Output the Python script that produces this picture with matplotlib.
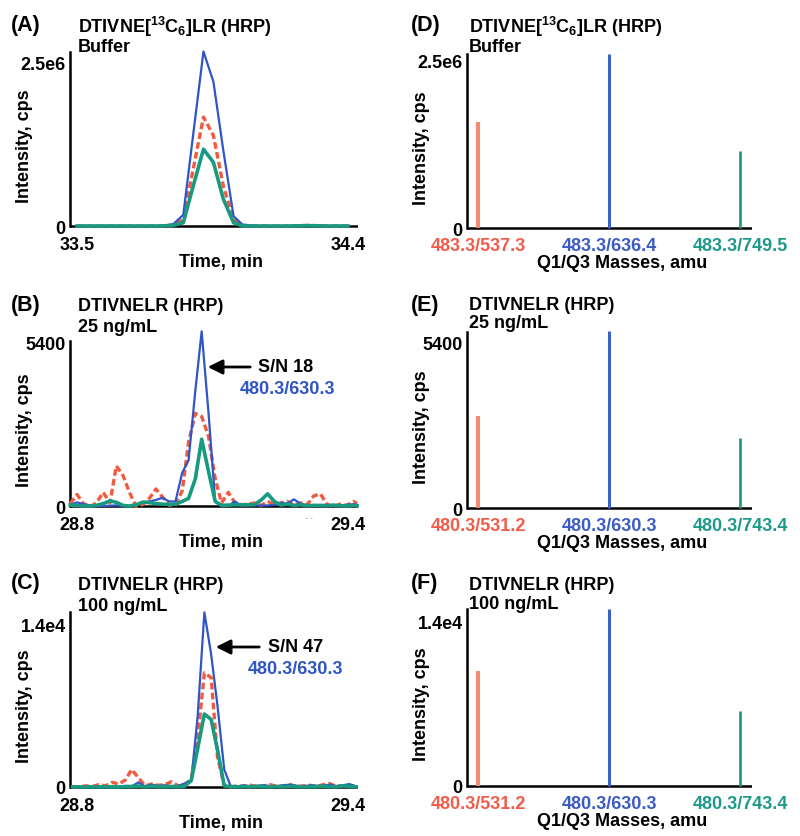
import matplotlib
matplotlib.use('Agg')
import matplotlib.pyplot as plt

plt.rcParams['font.family'] = ['Liberation Sans', 'DejaVu Sans']
plt.rcParams['font.weight'] = 'bold'
plt.rcParams['mathtext.fontset'] = 'custom'
plt.rcParams['mathtext.rm'] = 'Liberation Sans:bold'
plt.rcParams['mathtext.bf'] = 'Liberation Sans:bold'
plt.rcParams['mathtext.it'] = 'Liberation Sans:bold'

# ---------------- data ----------------
# Panel A (buffer, labeled peptide)
time_a = [33.50, 33.60, 33.70, 33.78, 33.82, 33.853, 33.886, 33.92, 33.953, 33.986,
          34.02, 34.05, 34.10, 34.20, 34.27, 34.33, 34.40]
blue_a = [0, 0, 0, 0, 0.03e6, 0.17e6, 1.40e6, 2.66e6, 2.20e6, 1.15e6,
          0.15e6, 0.02e6, 0, 0, 0.01e6, 0, 0]
red_a = [0, 0, 0, 0, 0.01e6, 0.10e6, 0.87e6, 1.66e6, 1.38e6, 0.61e6,
         0.10e6, 0.01e6, 0, 0, 0.01e6, 0, 0]
green_a = [0, 0, 0, 0, 0.01e6, 0.05e6, 0.61e6, 1.17e6, 0.97e6, 0.41e6,
           0.05e6, 0, 0, 0, 0.005e6, 0, 0]

# Panel B (25 ng/mL)
time_b = [28.785, 28.800, 28.814, 28.829, 28.843, 28.858, 28.873, 28.887, 28.902, 28.916,
          28.931, 28.946, 28.960, 28.975, 28.989, 29.004, 29.018, 29.033, 29.047, 29.062,
          29.076, 29.091, 29.106, 29.120, 29.135, 29.149, 29.164, 29.178, 29.193, 29.208,
          29.222, 29.237, 29.251, 29.266, 29.280, 29.295, 29.310, 29.324, 29.339, 29.353,
          29.368, 29.382, 29.397, 29.412, 29.420]
red_b = [80, 380, 80, -20, 100, 450, 100, 1320, 1000, 450,
         -20, 50, 250, 560, 300, 30, 40, 500, 2100, 3050,
         2950, 2300, 900, 100, 450, 120, 40, 60, 100, 20,
         150, 60, 100, 150, 30, 100, 50, 330, 400, 60,
         -20, 60, 20, 150, 80]
blue_b = [40, 120, 60, 20, 0, 0, 10, 20, 0, 0,
          30, 120, 150, 200, 270, 150, 150, 1100, 1500, 3800,
          5750, 3100, 150, 30, 0, 150, 20, 20, 30, 10,
          20, 40, 100, 80, 220, 80, 20, 30, 10, 30,
          0, 20, 40, 60, 30]
green_b = [30, 20, 0, 0, 20, 80, 170, 120, 20, 0,
           40, 130, 110, 80, 60, 50, 60, 150, 250, 900,
           2200, 1150, 150, 20, 30, 40, 40, 40, 40, 200,
           400, 150, 30, 60, 20, 40, 10, 20, 20, 10,
           30, 10, 0, 20, 10]

# Panel C (100 ng/mL)
time_c = [28.790, 28.805, 28.819, 28.834, 28.848, 28.863, 28.878, 28.892, 28.907, 28.921,
          28.936, 28.951, 28.965, 28.980, 28.994, 29.009, 29.024, 29.038, 29.053, 29.067,
          29.082, 29.097, 29.111, 29.126, 29.140, 29.155, 29.170, 29.184, 29.199, 29.213,
          29.228, 29.243, 29.257, 29.272, 29.286, 29.301, 29.316, 29.330, 29.345, 29.359,
          29.374, 29.389, 29.403, 29.418]
blue_c = [20, 0, 10, 0, 20, 0, 30, 10, 100, 50,
          400, 50, 200, 100, 150, 50, 100, 300, 600, 6000,
          15000, 11400, 7000, 1500, 100, 50, 150, 50, 100, 150,
          80, 50, 150, 200, 100, 50, 150, 100, 120, 200,
          80, 150, 250, 50]
red_c = [50, 0, 100, 50, 200, 100, 400, 250, 600, 1500,
         800, 100, 250, 150, 200, 450, 100, 150, 700, 4100,
         9800, 9400, 2600, 100, 0, 100, 50, 150, 50, 100,
         200, 50, 100, 200, 50, 100, 150, 50, 200, 300,
         50, 100, 50, 100]
green_c = [10, 0, 0, 10, 0, 20, 10, 0, 30, 50,
           80, 20, 60, 40, 20, 50, 30, 60, 550, 3260,
           6270, 5800, 3200, 100, 30, 20, 40, 30, 60, 40,
           20, 50, 30, 60, 40, 20, 30, 40, 60, 30,
           20, 100, 40, 20]

# Bar panels D, E, F
cats_d = ['483.3/537.3', '483.3/636.4', '483.3/749.5']
vals_d = [1.59e6, 2.60e6, 1.16e6]
cats_e = ['480.3/531.2', '480.3/630.3', '480.3/743.4']
vals_e = [2990, 5760, 2280]
cats_f = ['480.3/531.2', '480.3/630.3', '480.3/743.4']
vals_f = [9820, 15100, 6400]

# ---------------- styling ----------------
W, H = 800, 837
BLUE = '#2f55c6'
RED = '#f25a40'
GREEN = '#189a80'
BAR_COLORS = ['#f58a72', '#3a62c8', '#24998a']
LABEL_COLORS = ['#f25c4a', '#3d5bc4', '#1e9a8a']
FS = 13

fig = plt.figure(figsize=(W / 100, H / 100), dpi=100)


def make_axes(l, r, spine_top, zero, tick_px, tickval, ticklabel, extra):
    bot = zero + extra
    ax = fig.add_axes([l / W, 1 - bot / H, (r - l) / W, (bot - spine_top) / H])
    scale = tickval / (zero - tick_px)
    top_val = (zero - spine_top) * scale
    ax.set_ylim(-extra * scale, top_val)
    ax.set_yticks([0, tickval])
    ax.set_yticklabels(['0', ticklabel])
    for s in ['top', 'right', 'bottom']:
        ax.spines[s].set_visible(False)
    ax.spines['left'].set_linewidth(1.8)
    ax.spines['left'].set_bounds(0, top_val)
    ax.axhline(0, color='black', lw=1.8, zorder=1)
    ax.tick_params(axis='both', length=0, labelsize=FS)
    ax.tick_params(axis='y', pad=3)
    ax.set_facecolor('none')
    # y label (right edge of the rotated label ~37 px left of the spine)
    ax.set_ylabel('Intensity, cps', fontsize=FS, fontweight='bold')
    ax.yaxis.set_label_coords(-37 / (r - l),
                              (bot - (zero + spine_top) / 2 - 6) / (bot - spine_top))
    return ax, bot


def xlim_from(ax, v0, v1, p0, p1, l, r):
    s = (v1 - v0) / (p1 - p0)
    ax.set_xlim(v0 - (p0 - l) * s, v1 + (r - p1) * s)


def chrom_panel(l, r, spine_top, zero, tick_px, tickval, ticklabel, t, red, blue, green, x0, x1):
    ax, bot = make_axes(l, r, spine_top, zero, tick_px, tickval, ticklabel, 4)
    xlim_from(ax, x0, x1, l + 7, l + 278, l, r)
    ax.set_xticks([x0, x1])
    ax.set_xticklabels([f'{x0:.1f}', f'{x1:.1f}'])
    ax.tick_params(axis='x', pad=4)
    ax.plot(t, red, color=RED, lw=2.4, ls=(0, (2.0, 1.0)), zorder=3, clip_on=False)
    ax.plot(t, blue, color=BLUE, lw=1.6, zorder=4, clip_on=False)
    ax.plot(t, green, color=GREEN, lw=2.6, zorder=5, clip_on=False)
    ax.set_xlabel('Time, min', fontsize=FS, fontweight='bold')
    ax.xaxis.set_label_coords(151 / (r - l), -(zero + 27 - bot) / (bot - spine_top))
    return ax


def bar_panel(l, r, spine_top, zero, tick_px, tickval, ticklabel, cats, vals):
    ax, bot = make_axes(l, r, spine_top, zero, tick_px, tickval, ticklabel, 2)
    xpos = list(range(len(cats)))
    xlim_from(ax, 0, 2, l + 11, l + 273, l, r)
    widths = [3.0, 2.2, 2.0]
    for i, (x, v) in enumerate(zip(xpos, vals)):
        ax.vlines(x, 0, v, color=BAR_COLORS[i], lw=widths[i], zorder=3, clip_on=False)
    ax.set_xticks(xpos)
    ax.set_xticklabels(cats)
    for lab, c in zip(ax.get_xticklabels(), LABEL_COLORS):
        lab.set_color(c)
    ax.tick_params(axis='x', pad=5)
    ax.set_xlabel('Q1/Q3 Masses, amu', fontsize=FS, fontweight='bold')
    ax.xaxis.set_label_coords(155 / (r - l), -(zero + 26 - bot) / (bot - spine_top))
    return ax


def ftext(x, y, s, **kw):
    kw.setdefault('fontsize', FS)
    kw.setdefault('fontweight', 'bold')
    fig.text(x / W, 1 - y / H, s, va='center', **kw)


title_lab = r'DTIVNE[$^{13}$C$_{6}$]LR (HRP)'

# Left column
chrom_panel(70, 358, 53, 227, 63, 2.5e6, '2.5e6', time_a, red_a, blue_a, green_a, 33.5, 34.4)
chrom_panel(70, 358, 342, 507, 343, 5400, '5400', time_b, red_b, blue_b, green_b, 28.8, 29.4)
chrom_panel(70, 358, 613, 788, 625, 1.4e4, '1.4e4', time_c, red_c, blue_c, green_c, 28.8, 29.4)

# Right column
bar_panel(467, 752, 55, 229, 62, 2.5e6, '2.5e6', cats_d, vals_d)
bar_panel(467, 752, 333, 509, 343, 5400, '5400', cats_e, vals_e)
bar_panel(467, 752, 610, 787, 623, 1.4e4, '1.4e4', cats_f, vals_f)

# Panel letters and titles
for (x, y, s) in [(11, 25, '(A)'), (11, 305, '(B)'), (11, 584, '(C)'),
                  (411, 25, '(D)'), (411, 305, '(E)'), (411, 584, '(F)')]:
    ftext(x, y, s, fontsize=15.5)

ftext(78, 27, title_lab)
ftext(78, 47, 'Buffer')
ftext(78, 307, 'DTIVNELR (HRP)')
ftext(78, 327, '25 ng/mL')
ftext(78, 586, 'DTIVNELR (HRP)')
ftext(78, 607, '100 ng/mL')
ftext(469, 27, title_lab)
ftext(469, 47, 'Buffer')
ftext(469, 306, 'DTIVNELR (HRP)')
ftext(469, 324, '25 ng/mL')
ftext(469, 586, 'DTIVNELR (HRP)')
ftext(469, 605, '100 ng/mL')

# S/N annotations
for (tip_x, tail_x, y, txt_x, sn, mass_x, mass_y) in [
        (205, 253, 368, 258, 'S/N 18', 240, 390),
        (213, 262, 648, 268, 'S/N 47', 248, 670)]:
    fig.add_artist(matplotlib.patches.FancyArrowPatch(
        (tail_x / W, 1 - y / H), (tip_x / W, 1 - y / H), transform=fig.transFigure,
        arrowstyle='-|>', mutation_scale=22, color='black', lw=2))
    ftext(txt_x, y, sn)
    ftext(mass_x, mass_y, '480.3/630.3', color=BLUE)

ftext(306, 518, '- -', fontsize=5, color='#888888', fontweight='normal')

fig.savefig('out.png', dpi=100)
